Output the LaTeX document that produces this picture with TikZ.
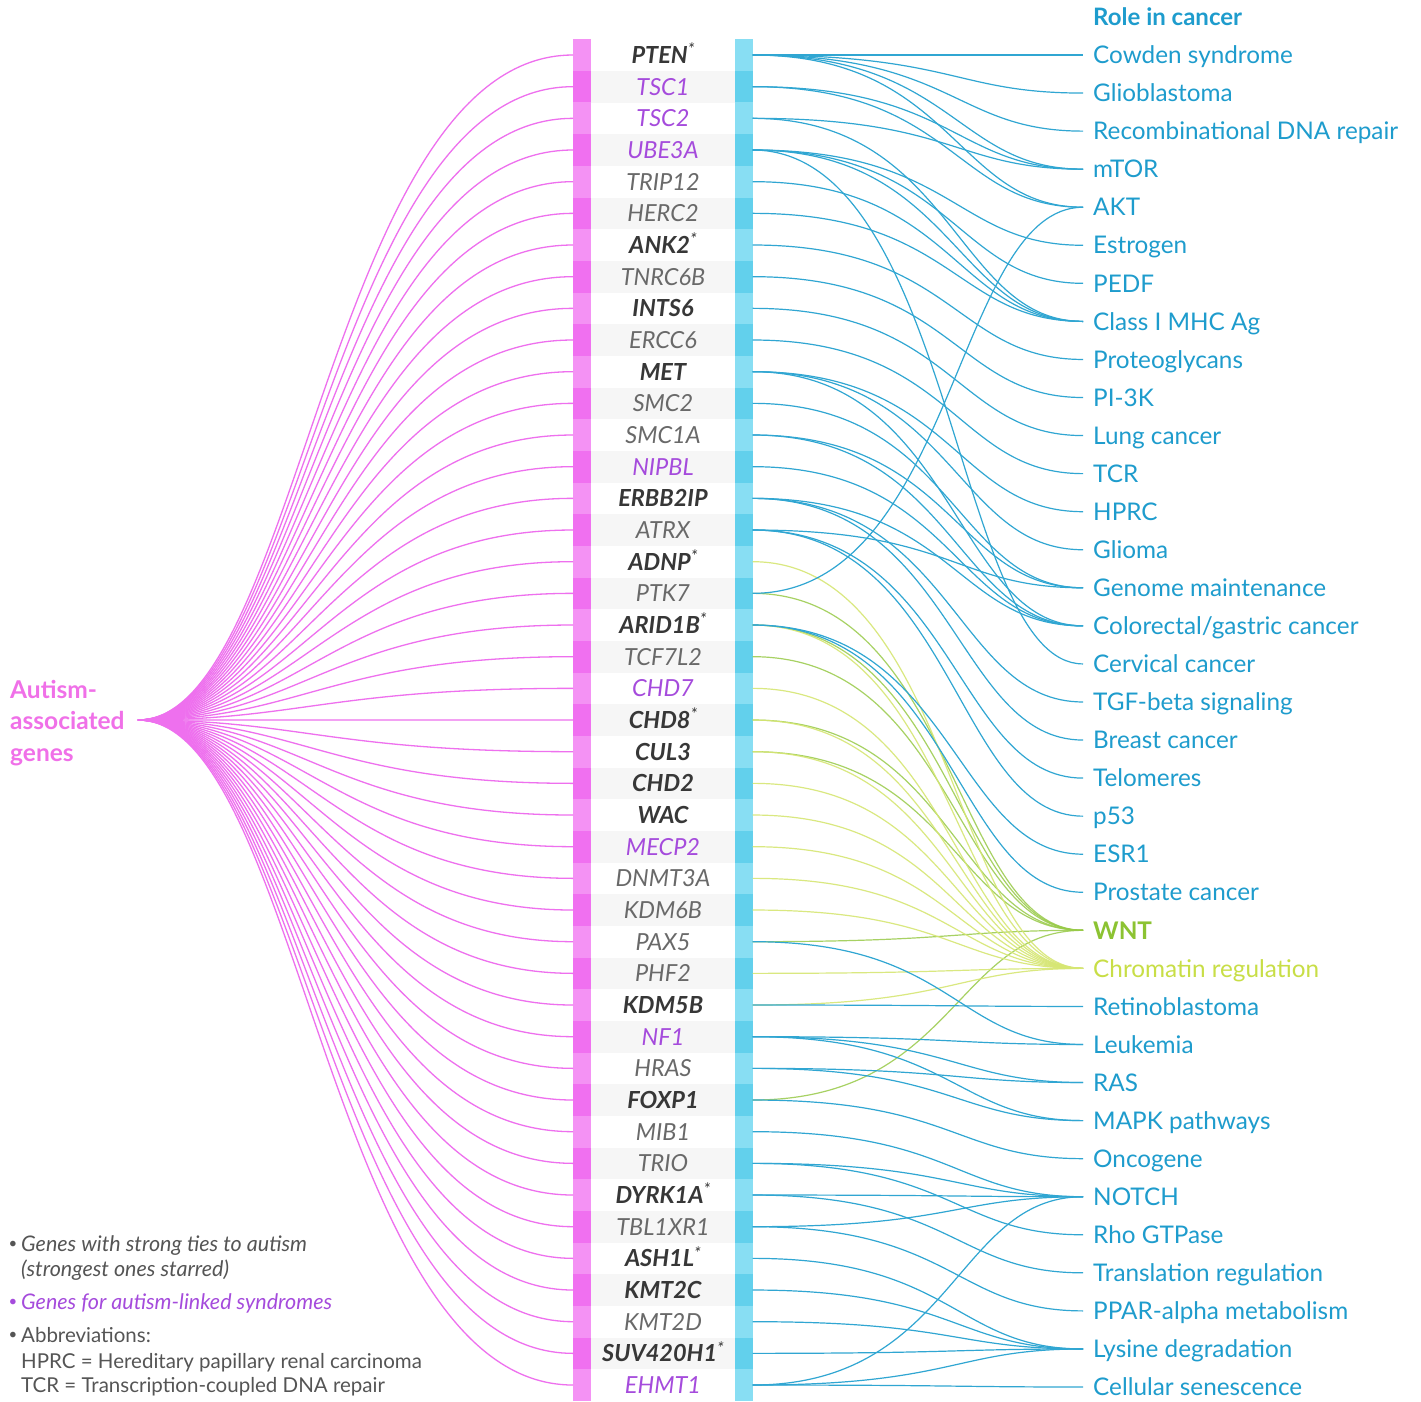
\documentclass[tikz,border=0pt]{standalone}
\usepackage{fontspec}
\setmainfont{Lato}
\definecolor{pinkline}{RGB}{238,112,238}
\definecolor{pinktext}{RGB}{240,112,232}
\definecolor{pinkdark}{RGB}{240,112,240}
\definecolor{pinklight}{RGB}{244,146,244}
\definecolor{cyandark}{RGB}{98,208,236}
\definecolor{cyanlight}{RGB}{136,222,243}
\definecolor{blueline}{RGB}{48,166,210}
\definecolor{bluetext}{RGB}{30,156,205}
\definecolor{wntline}{RGB}{152,202,72}
\definecolor{chromline}{RGB}{214,230,115}
\definecolor{wnttext}{RGB}{140,195,50}
\definecolor{chromtext}{RGB}{200,222,70}
\definecolor{purp}{RGB}{165,75,220}
\definecolor{darkgene}{RGB}{55,55,55}
\definecolor{lightgene}{RGB}{105,105,105}
\definecolor{rowgrey}{RGB}{246,246,246}
\definecolor{legendgrey}{RGB}{85,85,85}
\newcommand\gst{\raisebox{0.32em}{\mdseries\fontsize{17}{17}\selectfont *}}
\begin{document}
\begin{tikzpicture}[x=1pt,y=-1pt,
  genetext/.style={font=\fontsize{23.5}{23.5}\selectfont\itshape, inner sep=0pt, text height=16.8pt, text depth=0pt, anchor=center},
  gb/.style={genetext, text=darkgene, font=\fontsize{23.5}{23.5}\selectfont\itshape\bfseries},
  gr/.style={genetext, text=lightgene},
  gp/.style={genetext, text=purp},
  rolelab/.style={font=\fontsize{24.3}{24.3}\selectfont, inner sep=0pt, text height=17.4pt, text depth=0pt, anchor=west},
  pinkconn/.style={draw=pinkline, line width=1.3pt},
  blueconn/.style={draw=blueline, line width=1.2pt},
  wntconn/.style={draw=wntline, line width=1.2pt, opacity=0.85},
  chromconn/.style={draw=chromline, line width=1.2pt, opacity=0.9},
  legend/.style={font=\fontsize{20.5}{20.5}\selectfont, inner sep=0pt, text height=14.7pt, text depth=0pt, anchor=west},
  legendit/.style={legend, font=\fontsize{21.5}{21.5}\selectfont\itshape},
  bulletlab/.style={font=\fontsize{15}{15}\selectfont, inner sep=0pt, anchor=center},
  titlelab/.style={font=\fontsize{24.5}{24.5}\selectfont\bfseries, text=pinktext, inner sep=0pt, text height=17.5pt, text depth=0pt, anchor=west}
]
\useasboundingbox (0,0) rectangle (1421,1401);
\fill[white] (0,0) rectangle (1421,1401);

% gene rows, bars, labels
\foreach \lab/\st [count=\i from 0] in {
 {PTEN\gst}/gb,{TSC1}/gp,{TSC2}/gp,{UBE3A}/gp,{TRIP12}/gr,{HERC2}/gr,{ANK2\gst}/gb,
 {TNRC6B}/gr,{INTS6}/gb,{ERCC6}/gr,{MET}/gb,{SMC2}/gr,{SMC1A}/gr,{NIPBL}/gp,
 {ERBB2IP}/gb,{ATRX}/gr,{ADNP\gst}/gb,{PTK7}/gr,{ARID1B\gst}/gb,{TCF7L2}/gr,{CHD7}/gp,
 {CHD8\gst}/gb,{CUL3}/gb,{CHD2}/gb,{WAC}/gb,{MECP2}/gp,{DNMT3A}/gr,{KDM6B}/gr,
 {PAX5}/gr,{PHF2}/gr,{KDM5B}/gb,{NF1}/gp,{HRAS}/gr,{FOXP1}/gb,{MIB1}/gr,{TRIO}/gr,
 {DYRK1A\gst}/gb,{TBL1XR1}/gr,{ASH1L\gst}/gb,{KMT2C}/gb,{KMT2D}/gr,{SUV420H1\gst}/gb,{EHMT1}/gp} {
  \pgfmathsetmacro\yy{55+\i*31.667}
  \pgfmathsetmacro\ytop{\yy-15.84}
  \pgfmathsetmacro\ybot{\yy+15.84}
  \pgfmathparse{int(mod(\i,2))}
  \ifnum\pgfmathresult=0
    \fill[pinklight] (573,\ytop) rectangle (591,\ybot);
    \fill[cyanlight] (735,\ytop) rectangle (752.5,\ybot);
  \else
    \fill[pinkdark] (573,\ytop) rectangle (591,\ybot);
    \fill[rowgrey] (591,\ytop) rectangle (735,\ybot);
    \fill[cyandark] (735,\ytop) rectangle (752.5,\ybot);
  \fi
  \coordinate (gl\i) at (573,\yy);
  \coordinate (gr\i) at (752.5,\yy);
  \node[\st] (gn\i) at (663,\yy) {\lab};
}

% cancer roles
\foreach \lab/\col [count=\j from 0] in {
 {Cowden syndrome}/bluetext,{Glioblastoma}/bluetext,{Recombinational DNA repair}/bluetext,
 {mTOR}/bluetext,{AKT}/bluetext,{Estrogen}/bluetext,{PEDF}/bluetext,{Class I MHC Ag}/bluetext,
 {Proteoglycans}/bluetext,{PI-3K}/bluetext,{Lung cancer}/bluetext,{TCR}/bluetext,{HPRC}/bluetext,
 {Glioma}/bluetext,{Genome maintenance}/bluetext,{Colorectal/gastric cancer}/bluetext,
 {Cervical cancer}/bluetext,{TGF-beta signaling}/bluetext,{Breast cancer}/bluetext,
 {Telomeres}/bluetext,{p53}/bluetext,{ESR1}/bluetext,{Prostate cancer}/bluetext,
 {\bfseries WNT}/wnttext,{Chromatin regulation}/chromtext,{Retinoblastoma}/bluetext,
 {Leukemia}/bluetext,{RAS}/bluetext,{MAPK pathways}/bluetext,{Oncogene}/bluetext,
 {NOTCH}/bluetext,{Rho GTPase}/bluetext,{Translation regulation}/bluetext,
 {PPAR-alpha metabolism}/bluetext,{Lysine degradation}/bluetext,{Cellular senescence}/bluetext} {
  \pgfmathsetmacro\ty{55+\j*38.057}
  \coordinate (t\j) at (1083,\ty);
  \node[rolelab, text=\col] (tl\j) at (1093,\ty) {\lab};
}
\node[rolelab, text=bluetext, font=\fontsize{24}{24}\selectfont\bfseries] (rolehead) at (1093,17) {Role in cancer};

% hub and pink connectors
\coordinate (hub) at (138,720);
\foreach \i in {0,...,42}
  \draw[pinkconn] (hub) .. controls +(162,0) and +(-243,0) .. (gl\i);
\node[titlelab] (tA) at (10,690) {Autism-};
\node[titlelab] (tB) at (10,721) {associated};
\node[titlelab] (tC) at (10,753) {genes};

% green connectors
\foreach \a in {18,19,17,21,22,28,33}
  \draw[wntconn] (gr\a) .. controls +(202,0) and +(-128,0) .. (t23);
\foreach \a in {16,18,20,21,22,23,24,25,26,27,29,30}
  \draw[chromconn] (gr\a) .. controls +(202,0) and +(-128,0) .. (t24);

% blue connectors
\foreach \a/\b in {0/0,0/1,0/2,0/3,0/4,1/3,1/4,2/3,2/7,3/5,3/6,3/7,3/16,4/7,5/7,
  6/8,7/9,8/10,9/11,10/12,10/13,10/15,11/14,12/14,12/15,13/15,14/15,14/17,14/18,
  15/14,15/19,15/20,17/4,18/21,18/22,28/26,30/25,31/26,31/27,31/28,32/27,32/28,33/29,
  34/30,35/30,35/31,36/30,36/32,37/30,37/33,38/34,39/34,40/34,41/34,42/30,42/34,42/35}
  \draw[blueconn] (gr\a) .. controls +(202,0) and +(-128,0) .. (t\b);

% legend
\node[bulletlab, text=legendgrey] (lb1) at (13,1245) {\textbullet};
\node[legendit, text=legendgrey] (l1) at (21,1244) {Genes with strong ties to autism};
\node[legendit, text=legendgrey] (l2) at (21,1269) {(strongest ones starred)};
\node[bulletlab, text=purp] (lb2) at (13,1303) {\textbullet};
\node[legendit, text=purp] (l3) at (21,1302) {Genes for autism-linked syndromes};
\node[bulletlab, text=legendgrey] (lb3) at (13,1336) {\textbullet};
\node[legend, text=legendgrey] (l4) at (21,1335) {Abbreviations:};
\node[legend, text=legendgrey] (l5) at (21,1361) {HPRC = Hereditary papillary renal carcinoma};
\node[legend, text=legendgrey] (l6) at (21,1385) {TCR = Transcription-coupled DNA repair};
\end{tikzpicture}
\end{document}
